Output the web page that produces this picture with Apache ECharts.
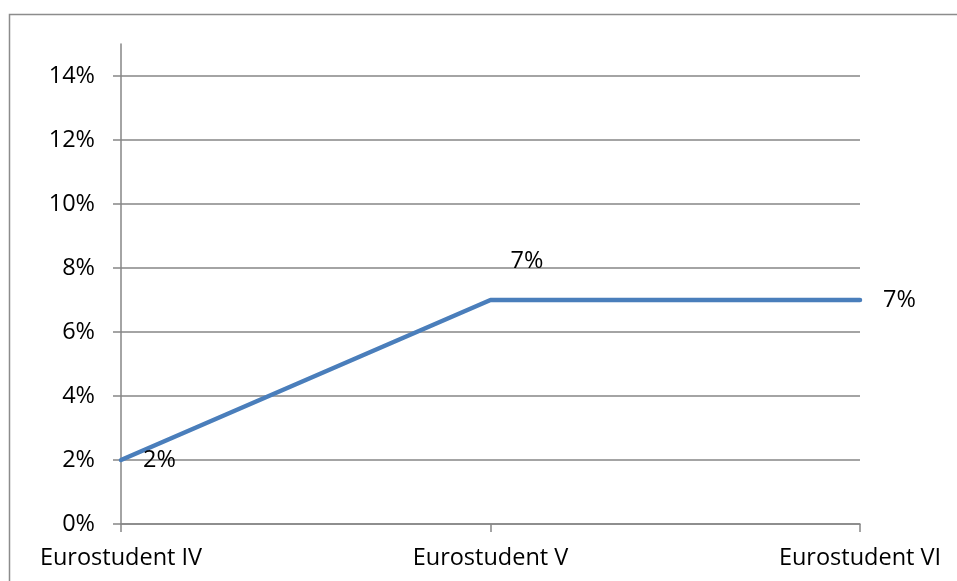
<!DOCTYPE html>
<html>
<head>
<meta charset="utf-8">
<script src="https://cdn.jsdelivr.net/npm/echarts@6/dist/echarts.min.js"></script>
<style>
html,body{margin:0;padding:0;background:#fff;}
#chart{width:957px;height:581px;}
</style>
</head>
<body>
<div id="chart"></div>
<script>
var categories = ['Eurostudent IV', 'Eurostudent V', 'Eurostudent VI'];
var values = [0.02, 0.07, 0.07];
var yMin = 0, yMax = 0.14, yInterval = 0.02, axisTop = 0.15;

var FONT = 'Open Sans';
var FS = 23.5;
var pct = function (v) { return Math.round(v * 100) + '%'; };

var labelCfg = [
  { position: 'right', distance: 22 },
  { position: 'right', distance: 20, offset: [0, -39] },
  { position: 'right', distance: 23 }
];

var chart = echarts.init(document.getElementById('chart'), null, { renderer: 'canvas' });
chart.setOption({
  animation: false,
  backgroundColor: '#fff',
  textStyle: { fontFamily: FONT },
  graphic: [{
    type: 'rect', silent: true,
    shape: { x: 9.5, y: 14.5, width: 1200, height: 1200 },
    style: { fill: 'none', stroke: '#8c8c8c', lineWidth: 1.5 }
  }],
  grid: [
    { left: 121, right: 97, top: 76, bottom: 57, containLabel: false },
    { left: 121, right: 97, top: 44, bottom: 57, containLabel: false }
  ],
  xAxis: [{
    gridIndex: 0, type: 'category', data: categories, boundaryGap: false,
    axisLine: { show: true, lineStyle: { color: '#868686', width: 1.5 } },
    axisTick: { show: true, alignWithLabel: true, length: 8, lineStyle: { color: '#868686', width: 1.5 } },
    axisLabel: { color: '#000', fontFamily: FONT, fontSize: FS, margin: 22 },
    splitLine: { show: false }
  }, {
    gridIndex: 1, type: 'category', data: categories, boundaryGap: false, show: false
  }],
  yAxis: [{
    gridIndex: 0, type: 'value', min: yMin, max: yMax, interval: yInterval,
    axisLine: { show: false },
    axisTick: { show: true, length: 8, lineStyle: { color: '#868686', width: 1.5 } },
    axisLabel: { color: '#000', fontFamily: FONT, fontSize: FS, margin: 26, formatter: pct },
    splitLine: { show: true, lineStyle: { color: '#868686', width: 1.5 } }
  }, {
    gridIndex: 1, type: 'value', min: yMin, max: axisTop,
    axisLine: { show: true, lineStyle: { color: '#868686', width: 1.5 } },
    axisTick: { show: false }, axisLabel: { show: false }, splitLine: { show: false }
  }],
  series: [{
    type: 'line', xAxisIndex: 0, yAxisIndex: 0,
    data: values.map(function (v, i) {
      return { value: v, label: labelCfg[i] };
    }),
    symbol: 'circle', symbolSize: 0, showSymbol: true,
    lineStyle: { color: '#4a7ebb', width: 4.5, cap: 'round', join: 'round' },
    itemStyle: { color: '#4a7ebb' },
    label: { show: true, color: '#000', fontFamily: FONT, fontSize: FS, formatter: function (p) { return pct(p.value); } },
    z: 5
  }]
});
</script>
</body>
</html>
